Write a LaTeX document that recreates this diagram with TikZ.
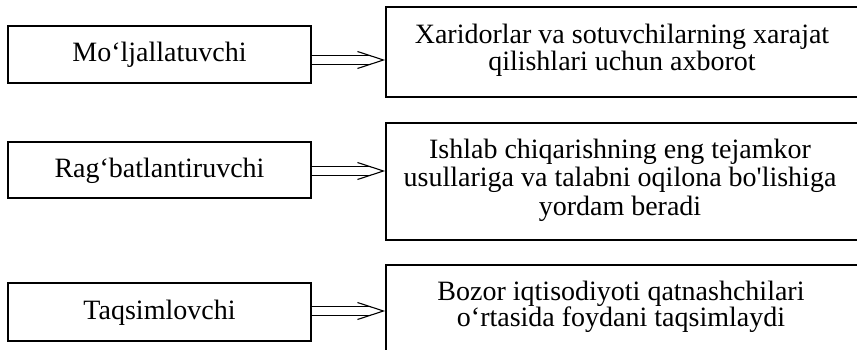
\documentclass[tikz,border=0pt]{standalone}
\usepackage{fontspec}
\setmainfont{Liberation Serif}[Ligatures=TeXOff]
\begin{document}
\begin{tikzpicture}[x=1pt,y=-1pt,line width=1.1pt,
  lbox/.style={draw, minimum width=303, inner sep=0, text height=19pt, text depth=4pt, font=\fontsize{28}{30}\selectfont},
  rbox/.style={draw, minimum width=472, inner sep=0},
  rtext/.style={align=center, inner sep=0},
  dbl/.style={double, double distance=7.2, line width=1.1pt}]
\useasboundingbox (0,0) rectangle (857,350);
\clip (0,0) rectangle (857,350);
% left boxes
\node[lbox, minimum height=57] (l1) at (159.5,54.5) {Mo‘ljallatuvchi};
\node[lbox, minimum height=56] (l2) at (159.5,170) {Rag‘batlantiruvchi};
\node[lbox, minimum height=58] (l3) at (159.5,312) {Taqsimlovchi};
% right boxes
\node[rbox, minimum height=90] (r1) at (622,52) {};
\node[rbox, minimum height=117] (r2) at (622,181.5) {};
\node[rbox, minimum height=105] (r3) at (622,317.5) {};
% right texts
\node[rtext, font=\fontsize{28}{27}\selectfont] (t1) at (622,50) {Xaridorlar va sotuvchilarning xarajat\\qilishlari uchun axborot};
\node[rtext, font=\fontsize{28}{28.5}\selectfont] (t2) at (620,180.3) {Ishlab chiqarishning eng tejamkor\\usullariga va talabni oqilona bo'lishiga\\yordam beradi};
\node[rtext, font=\fontsize{28}{26}\selectfont] (t3) at (621,307.2) {Bozor iqtisodiyoti qatnashchilari\\o‘rtasida foydani taqsimlaydi};
% arrows
\foreach \a/\b/\y in {l1/r1/60, l2/r2/171, l3/r3/311}{
  \coordinate (tip\a) at ([xshift=-2]\b.west |- 0,\y);
  \draw[dbl] (\a.east |- 0,\y) -- ([xshift=-12]tip\a);
  \draw ([shift={(-26,-8.5)}]tip\a) -- (tip\a) -- ([shift={(-26,8.5)}]tip\a);
}
\end{tikzpicture}
\end{document}
